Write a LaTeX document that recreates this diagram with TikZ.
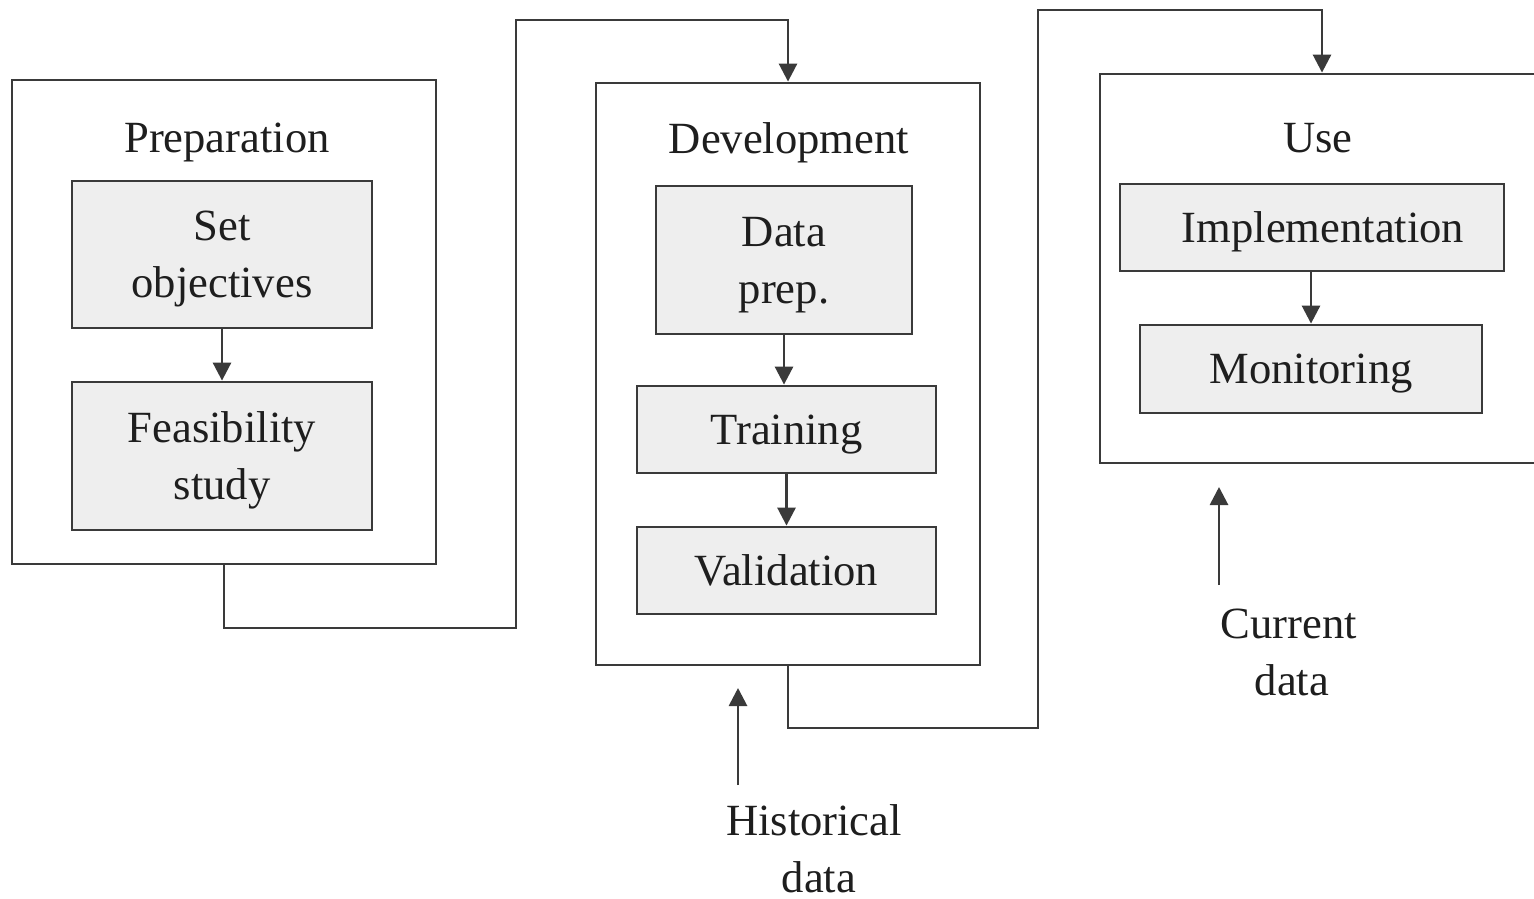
\documentclass[tikz,border=0pt]{standalone}
\usepackage{fontspec}
\setmainfont{Liberation Serif}
\usetikzlibrary{arrows.meta}
\definecolor{ln}{HTML}{3A3A3A}
\definecolor{fl}{HTML}{EEEEEE}
\definecolor{tx}{HTML}{1E1E1E}
\begin{document}
\begin{tikzpicture}[x=0.5pt,y=-0.5pt,
  every node/.style={text=tx,font=\fontsize{22.3}{28.5}\selectfont,align=center,inner sep=0pt,text depth=0pt},
  outer/.style={draw=ln,line width=1.4pt,fill=white},
  inbox/.style={draw=ln,line width=1.4pt,fill=fl},
  conn/.style={draw=ln,line width=1.4pt},
  arr/.style={conn,-{Triangle[length=9pt,width=9pt]}}]
\useasboundingbox (0,0) rectangle (1534,898);
\begin{scope}
\clip (0,0) rectangle (1534,898);
% outer boxes
\node[outer,minimum width=212pt,minimum height=242pt] (prep) at (224,322) {};
\node[outer,minimum width=192pt,minimum height=291pt] (dev) at (788,374) {};
\node[outer,minimum width=230pt,minimum height=194.5pt] (use) at (1330,268.5) {};
\end{scope}
% titles
\node (tprep) at (227,138) {Preparation};
\node (tdev) at (789,138) {Development};
\node (tuse) at (1318,138) {Use};
% inner boxes
\node[inbox,minimum width=150pt,minimum height=73.5pt] (so) at (222,254.5) {Set\\objectives};
\node[inbox,minimum width=150pt,minimum height=74pt] (fs) at (222,456) {Feasibility\\study};
\node[inbox,minimum width=128pt,minimum height=74pt] (dp) at (784,260) {Data\\prep.};
\node[inbox,minimum width=149.5pt,minimum height=43.5pt] (tr) at (786.5,429.5) {Training};
\node[inbox,minimum width=149.5pt,minimum height=43.5pt] (va) at (786.5,570.5) {Validation};
\node[inbox,minimum width=192pt,minimum height=43.5pt] (im) at (1312,227.5) {\hspace*{11pt}Implementation};
\node[inbox,minimum width=171pt,minimum height=44pt] (mo) at (1311,369) {Monitoring};
% inner arrows
\draw[arr] (so.south) -- (fs.north);
\draw[arr] (dp.south) -- (dp.south |- tr.north);
\draw[arr] (tr.south) -- (va.north);
\draw[arr] (im.south -| mo.north) -- (mo.north);
% connectors between phases
\coordinate (c1) at (516,628);
\coordinate (c2) at (788,20);
\draw[arr] (prep.south) |- (c1) |- (c2) -- (dev.north);
\coordinate (c3) at (1038,728);
\coordinate (c4) at (1322,10);
\draw[arr] (dev.south) |- (c3) |- (c4) -- (c4 |- use.north);
% data inputs
\node (hist) at (814,849) {Historical\\\hspace*{5pt}data};
\coordinate (h0) at (738,785);
\coordinate (h1) at (738,688);
\draw[arr] (h0) -- (h1);
\node (cur) at (1289,652) {Current\\\hspace*{3pt}data};
\coordinate (u0) at (1219,585);
\coordinate (u1) at (1219,487);
\draw[arr] (u0) -- (u1);
\end{tikzpicture}
\end{document}
